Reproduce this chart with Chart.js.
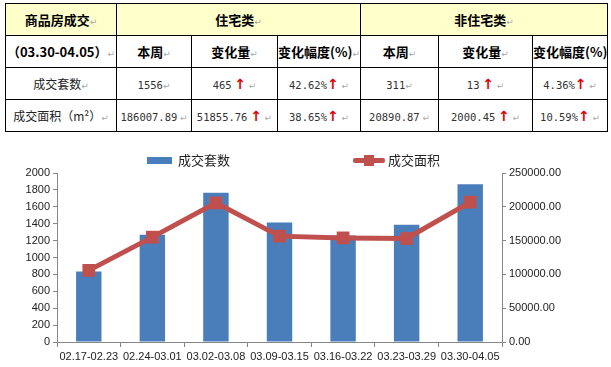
<!DOCTYPE html>
<html>
<head>
<meta charset="utf-8">
<title>商品房成交</title>
<script src="https://cdn.jsdelivr.net/npm/chart.js"></script>
<style>
  body { margin: 0; width: 611px; height: 367px; position: relative; overflow: hidden; background: #fff;
         font-family: "Noto Sans CJK SC", sans-serif; }
  table { position: absolute; left: 5px; top: 3px; width: 602px; border-collapse: collapse; table-layout: fixed; }
  td { border: 1px solid #000; height: 31px; padding: 0; text-align: center; font-size: 12px; color: #222;
       white-space: nowrap; overflow: hidden; }
  tr.head td { background: #ffffcc; font-weight: bold; font-size: 13px; color: #000; }
  tr.sub td { font-weight: bold; font-size: 13px; color: #000; }
  .num { font-family: "DejaVu Sans Mono", monospace; font-size: 10.5px; color: #333; }
  .up { color: #e00000; font-family: "DejaVu Sans"; font-weight: bold; font-size: 14px; }
  .p { color: #aaa; font-family: "DejaVu Sans"; font-size: 9px; font-weight: normal; }
  #chart { position: absolute; left: 0; top: 140px; }
  .lg { position: absolute; font-size: 13px; color: #222; line-height: 16px; }
  .box { position: absolute; }
</style>
</head>
<body>
<table>
  <colgroup>
    <col style="width:111px"><col style="width:75px"><col style="width:86px"><col style="width:83px">
    <col style="width:78px"><col style="width:94px"><col style="width:75px">
  </colgroup>
  <tr class="head">
    <td>商品房成交<span class="p">↵</span></td>
    <td colspan="3">住宅类<span class="p">↵</span></td>
    <td colspan="3">非住宅类<span class="p">↵</span></td>
  </tr>
  <tr class="sub">
    <td>（03.30-04.05）<span class="p">↵</span></td>
    <td>本周<span class="p">↵</span></td>
    <td>变化量<span class="p">↵</span></td>
    <td>变化幅度(%)<span class="p">↵</span></td>
    <td>本周<span class="p">↵</span></td>
    <td>变化量<span class="p">↵</span></td>
    <td>变化幅度(%)<span class="p">↵</span></td>
  </tr>
  <tr>
    <td>成交套数<span class="p">↵</span></td>
    <td><span class="num">1556</span><span class="p">↵</span></td>
    <td><span class="num">465</span> <span class="up">↑</span> <span class="p">↵</span></td>
    <td><span class="num">42.62%</span><span class="up">↑</span> <span class="p">↵</span></td>
    <td><span class="num">311</span><span class="p">↵</span></td>
    <td><span class="num">13</span> <span class="up">↑</span> <span class="p">↵</span></td>
    <td><span class="num">4.36%</span><span class="up">↑</span> <span class="p">↵</span></td>
  </tr>
  <tr>
    <td>成交面积（m²）<span class="p">↵</span></td>
    <td><span class="num">186007.89</span> <span class="p">↵</span></td>
    <td><span class="num">51855.76</span> <span class="up">↑</span> <span class="p">↵</span></td>
    <td><span class="num">38.65%</span><span class="up">↑</span> <span class="p">↵</span></td>
    <td><span class="num">20890.87</span> <span class="p">↵</span></td>
    <td><span class="num">2000.45</span> <span class="up">↑</span> <span class="p">↵</span></td>
    <td><span class="num">10.59%</span><span class="up">↑</span> <span class="p">↵</span></td>
  </tr>
</table>

<canvas id="chart" width="611" height="227"></canvas>
<div id="legend"></div>

<script>
  // weekly totals (residential + non-residential)
  const weeks = ['02.17-02.23', '02.24-03.01', '03.02-03.08', '03.09-03.15', '03.16-03.22', '03.23-03.29', '03.30-04.05']
  const deals = [835, 1270, 1765, 1415, 1259, 1389, 1867]
  const areas = [106000, 155100, 205800, 156600, 154000, 153043, 206899]
  const seriesNames = ['成交套数', '成交面积']

  const barColor = '#4a7ebb'
  const lineColor = '#c0504d'
  const axisColor = '#868686'
  const tickFont = { family: 'Liberation Sans', size: 11 }

  // simple html legend
  const legend = document.getElementById('legend')
  legend.innerHTML =
    `<div class="box" style="left:147px;top:157px;width:25px;height:7px;background:${barColor}"></div>` +
    `<div class="lg" style="left:178px;top:152px">${seriesNames[0]}</div>` +
    `<div class="box" style="left:353px;top:158px;width:32px;height:5px;background:${lineColor};border-radius:2px"></div>` +
    `<div class="box" style="left:364px;top:155px;width:10px;height:11px;background:${lineColor}"></div>` +
    `<div class="lg" style="left:388px;top:152px">${seriesNames[1]}</div>`

  new Chart(document.getElementById('chart'), {
    data: {
      labels: weeks,
      datasets: [
        {
          type: 'line',
          label: seriesNames[1],
          data: areas,
          yAxisID: 'y1',
          borderColor: lineColor,
          backgroundColor: lineColor,
          borderWidth: 5,
          pointStyle: 'rect',
          pointRadius: 9,
          pointBorderWidth: 0,
          tension: 0,
          order: 0
        },
        {
          type: 'bar',
          label: seriesNames[0],
          data: deals,
          yAxisID: 'y',
          backgroundColor: barColor,
          categoryPercentage: 1,
          barPercentage: 0.4,
          order: 1
        }
      ]
    },
    options: {
      responsive: false,
      animation: false,
      layout: { padding: { top: 33, bottom: 0 } },
      plugins: { legend: { display: false }, tooltip: { enabled: false } },
      scales: {
        x: {
          grid: { offset: true, drawOnChartArea: false, tickLength: 5, color: axisColor },
          border: { color: axisColor },
          ticks: { font: tickFont, color: '#222', maxRotation: 0, autoSkip: false, padding: 3 },
          afterFit: s => { s.height = 25 }
        },
        y: {
          position: 'left',
          min: 0,
          max: 2000,
          ticks: { stepSize: 200, font: tickFont, color: '#222', padding: 3, callback: v => String(v) },
          grid: { drawOnChartArea: false, tickLength: 4, color: axisColor },
          border: { color: axisColor },
          afterFit: s => { s.width = 57 }
        },
        y1: {
          position: 'right',
          min: 0,
          max: 250000,
          ticks: { stepSize: 50000, font: tickFont, color: '#222', padding: 3, callback: v => v.toFixed(2) },
          grid: { drawOnChartArea: false, tickLength: 4, color: axisColor },
          border: { color: axisColor },
          afterFit: s => { s.width = 109 }
        }
      }
    }
  })
</script>
</body>
</html>
